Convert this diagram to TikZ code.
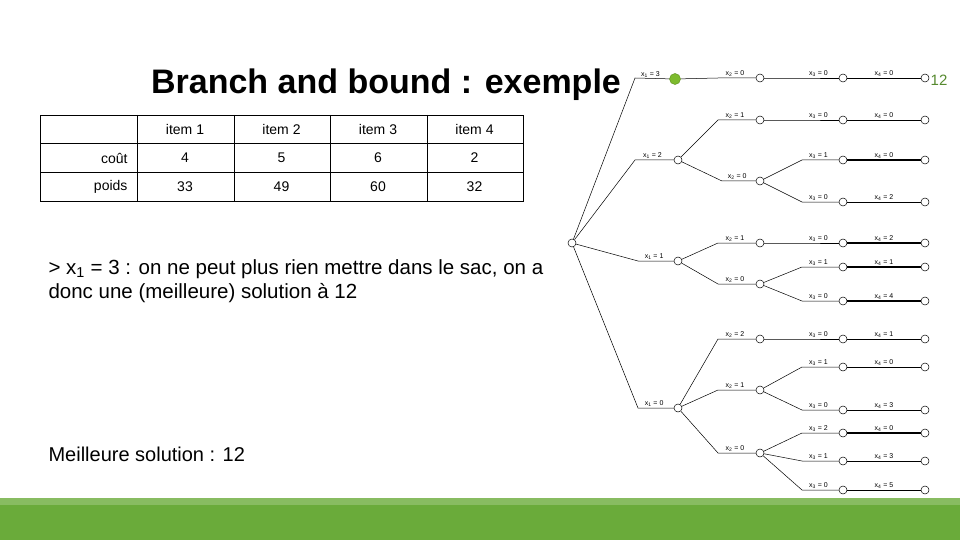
\documentclass[tikz,border=0pt]{standalone}
\usepackage{fontspec}
\setmainfont{Liberation Sans}
\definecolor{gbar}{HTML}{6AAB3A}
\definecolor{gnode}{HTML}{7DBB2E}
\newcommand\sbx[1]{\textsubscript{#1}}
\begin{document}
\begin{tikzpicture}[x=1pt,y=-1pt,
 nd/.style={circle,draw,fill=white,inner sep=0pt,minimum size=8pt,line width=0.5pt},
 lb/.style={font=\fontsize{7}{8}\selectfont,above,inner sep=1pt},
 cell/.style={font=\fontsize{14}{16}\selectfont}]
\useasboundingbox (0,0) rectangle (960,540);
\fill[gbar!80!white] (0,498) rectangle (960,505);
\fill[gbar] (0,505) rectangle (960,540);
\node[font=\bfseries\fontsize{34}{40}\selectfont] (title) at (386,85) {Branch and bound : exemple};
% table
\draw[line width=0.6pt] (40,115) rectangle (523,201);
\foreach \y in {143,172} \draw[line width=0.6pt] (40,\y) -- (523,\y);
\foreach \x in {137,234,330,427} \draw[line width=0.6pt] (\x,115) -- (\x,201);
\foreach \t [count=\i] in {item 1,item 2,item 3,item 4} \node[cell] (h\i) at (88.5+96.5*\i,129) {\t};
\node[cell,anchor=east] (c0) at (131,158) {coût};
\node[cell,anchor=east] (p0) at (131,187) {poids};
\foreach \t [count=\i] in {4,5,6,2} \node[cell] (c\i) at (88.5+96.5*\i,158) {\t};
\foreach \t [count=\i] in {33,49,60,32} \node[cell] (p\i) at (88.5+96.5*\i,187) {\t};
\node[anchor=west,align=left,font=\fontsize{20.5}{24}\selectfont] (txt) at (45,281) {> x\sbx{1} = 3 : on ne peut plus rien mettre dans le sac, on a\\donc une (meilleure) solution à 12};
\node[anchor=west,font=\fontsize{20}{22}\selectfont] (best) at (45,454) {Meilleure solution : 12};
\node[text=gbar!80!black,font=\fontsize{15}{17}\selectfont] (pg) at (939,80) {12};
% tree nodes
\node[nd] (r) at (572,243) {};
\node[nd,fill=gnode,draw=gnode!80!black,minimum size=11pt] (a3) at (675,79) {};
\node[nd] (a2) at (678,160) {};
\node[nd] (a1) at (678,261) {};
\node[nd] (a0) at (678,408) {};
\foreach \n/\y in {b30/78,b21/120,b20/181,b11/243,b10/284,b02/339,b01/390,b00/453} \node[nd] (\n) at (760,\y) {};
\foreach \n/\y in {c1/78,c2/120,c3/160,c4/202,c5/243,c6/267,c7/301,c8/339,c9/367,c10/410,c11/433,c12/461,c13/490} {
 \node[nd] (\n) at (843,\y) {};
 \node[nd] (d\n) at (925,\y) {};}
\tikzset{edge/.style={line width=0.5pt}}
\newcommand\br[5]{\draw[edge] (#1) -- (#2,#3) -- node[lb,pos=0.45]{#5} (#4);}
\br{r}{635}{78}{a3}{x\sbx{1} = 3}
\br{r}{635}{160}{a2}{x\sbx{1} = 2}
\br{r}{638}{261}{a1}{x\sbx{1} = 1}
\br{r}{638}{408}{a0}{x\sbx{1} = 0}
\br{a3}{718}{78}{b30}{x\sbx{2} = 0}
\br{a2}{718}{120}{b21}{x\sbx{2} = 1}
\br{a2}{722}{181}{b20}{x\sbx{2} = 0}
\br{a1}{718}{243}{b11}{x\sbx{2} = 1}
\br{a1}{718}{284}{b10}{x\sbx{2} = 0}
\br{a0}{718}{339}{b02}{x\sbx{2} = 2}
\br{a0}{718}{390}{b01}{x\sbx{2} = 1}
\br{a0}{718}{453}{b00}{x\sbx{2} = 0}
\br{b30}{802}{78}{c1}{x\sbx{3} = 0}
\br{b21}{802}{120}{c2}{x\sbx{3} = 0}
\br{b20}{802}{160}{c3}{x\sbx{3} = 1}
\br{b20}{802}{202}{c4}{x\sbx{3} = 0}
\br{b11}{802}{243}{c5}{x\sbx{3} = 0}
\br{b10}{802}{267}{c6}{x\sbx{3} = 1}
\br{b10}{802}{301}{c7}{x\sbx{3} = 0}
\br{b02}{802}{339}{c8}{x\sbx{3} = 0}
\br{b01}{802}{367}{c9}{x\sbx{3} = 1}
\br{b01}{802}{410}{c10}{x\sbx{3} = 0}
\br{b00}{802}{433}{c11}{x\sbx{3} = 2}
\br{b00}{802}{461}{c12}{x\sbx{3} = 1}
\br{b00}{802}{490}{c13}{x\sbx{3} = 0}
\foreach \i/\v/\w in {1/0/0.5,2/0/0.5,3/0/1.2,4/2/0.5,5/2/1.2,6/1/1.2,7/4/1.2,8/1/0.5,9/0/0.5,10/3/0.5,11/0/1.2,12/3/0.5,13/5/0.5}
 \draw[line width=\w pt] (c\i) -- node[lb]{x\sbx{4} = \v} (dc\i);
\end{tikzpicture}
\end{document}
